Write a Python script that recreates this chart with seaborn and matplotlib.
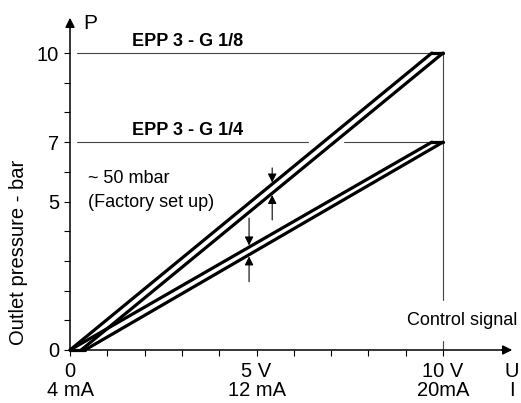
import matplotlib
matplotlib.use('Agg')
import matplotlib.pyplot as plt
import seaborn as sns

# characteristic lines, drawn as double lines (upper / lower edge)
signal_g18_upper = [0.0, 9.7]
signal_g18_lower = [0.3, 10.0]
pressure_g18 = [0.0, 10.0]
signal_g14_upper = [0.0, 9.7]
signal_g14_lower = [0.4, 10.0]
pressure_g14 = [0.0, 7.0]

x_ticks = [0, 5, 10]
x_tick_labels = ['0\n4 mA', '5 V\n12 mA', '10 V\n20mA']
y_ticks = [0, 5, 7, 10]
y_tick_labels = ['0', '5', '7', '10']

sns.set_theme(style='white')
plt.rcParams['font.family'] = ['Liberation Sans', 'DejaVu Sans']
plt.rcParams['text.color'] = 'black'
plt.rcParams['xtick.color'] = 'black'
plt.rcParams['ytick.color'] = 'black'
plt.rcParams['xtick.labelcolor'] = 'black'
plt.rcParams['ytick.labelcolor'] = 'black'

fig = plt.figure(figsize=(5.21, 4.03), dpi=100)
ax = fig.add_axes([0, 0, 1, 1])
ax.set_xlim(-1.877, 12.09)
ax.set_ylim(-1.785, 11.785)
ax.patch.set_alpha(0)

# axes through the origin
for side in ['top', 'right']:
    ax.spines[side].set_visible(False)
ax.spines['left'].set_position(('data', 0))
ax.spines['bottom'].set_position(('data', 0))
ax.spines['left'].set_bounds(0, 11.0)
ax.spines['bottom'].set_bounds(0, 11.7)
for side in ['left', 'bottom']:
    ax.spines[side].set_linewidth(1.1)
    ax.spines[side].set_color('black')
ax.annotate('', xy=(0, 11.28), xytext=(0, 10.8),
            arrowprops=dict(arrowstyle='-|>', color='black', lw=1.1, mutation_scale=14))
ax.annotate('', xy=(11.93, 0), xytext=(11.5, 0),
            arrowprops=dict(arrowstyle='-|>', color='black', lw=1.1, mutation_scale=14))

ax.set_xticks(x_ticks, labels=x_tick_labels)
ax.set_yticks(y_ticks, labels=y_tick_labels)
ax.set_xticks(range(11), minor=True)
ax.set_yticks(range(11), minor=True)
ax.tick_params(axis='both', which='both', direction='out', length=4, width=0.8,
               color='black', labelsize=14.5)
ax.tick_params(axis='x', which='both', bottom=True, pad=5)
ax.tick_params(axis='y', which='both', left=True, pad=4)
for lab in ax.get_xticklabels():
    lab.set_linespacing(1.0)

# thin reference lines
ref = '#444444'
ax.plot([0.2, 10], [10, 10], color=ref, lw=0.8)
ax.plot([0.2, 6.38], [7, 7], color=ref, lw=0.8)
ax.plot([7.35, 10], [7, 7], color=ref, lw=0.8)
ax.plot([10, 10], [10, 1.68], color=ref, lw=0.8)
ax.plot([10, 10], [0.3, 0], color=ref, lw=0.8)

# characteristic double lines
lw = 2.3
sns.lineplot(x=signal_g18_upper, y=pressure_g18, ax=ax, color='black', lw=lw,
             estimator=None, sort=False)
sns.lineplot(x=signal_g18_lower, y=pressure_g18, ax=ax, color='black', lw=lw,
             estimator=None, sort=False)
sns.lineplot(x=signal_g14_upper, y=pressure_g14, ax=ax, color='black', lw=lw,
             estimator=None, sort=False)
sns.lineplot(x=signal_g14_lower, y=pressure_g14, ax=ax, color='black', lw=lw,
             estimator=None, sort=False)
ax.plot([signal_g18_upper[1], signal_g18_lower[1]], [pressure_g18[1]] * 2, color='black', lw=lw)
ax.plot([signal_g14_upper[1], signal_g14_lower[1]], [pressure_g14[1]] * 2, color='black', lw=lw)
ax.plot([0, signal_g14_lower[0]], [0, 0], color='black', lw=lw)

# 50 mbar arrows
arr = dict(arrowstyle='-|>', color='black', lw=0.8, mutation_scale=13, shrinkA=0, shrinkB=0)
ax.annotate('', xy=(5.42, 5.64), xytext=(5.42, 6.13), arrowprops=arr)
ax.annotate('', xy=(5.42, 5.22), xytext=(5.42, 4.38), arrowprops=arr)
ax.annotate('', xy=(4.80, 3.52), xytext=(4.80, 4.44), arrowprops=arr)
ax.annotate('', xy=(4.80, 3.15), xytext=(4.80, 2.30), arrowprops=arr)

# texts
ax.text(0.35, 11.0, 'P', fontsize=15, ha='left', va='center')
ax.text(11.85, -1.05, 'U\nI', fontsize=14.5, ha='center', va='center', linespacing=1.0)
ax.text(3.16, 10.1, 'EPP 3 - G 1/8', fontsize=13, fontweight='bold', ha='center', va='bottom')
ax.text(3.16, 7.1, 'EPP 3 - G 1/4', fontsize=13, fontweight='bold', ha='center', va='bottom')
ax.text(0.48, 5.79, '~ 50 mbar', fontsize=13, ha='left', va='center')
ax.text(0.48, 4.95, '(Factory set up)', fontsize=13, ha='left', va='center')
ax.text(11.98, 0.98, 'Control signal', fontsize=13, ha='right', va='center')
ax.text(-1.39, 3.3, 'Outlet pressure - bar', fontsize=14.5, rotation=90, ha='center', va='center')

fig.savefig('out.png', dpi=100)
